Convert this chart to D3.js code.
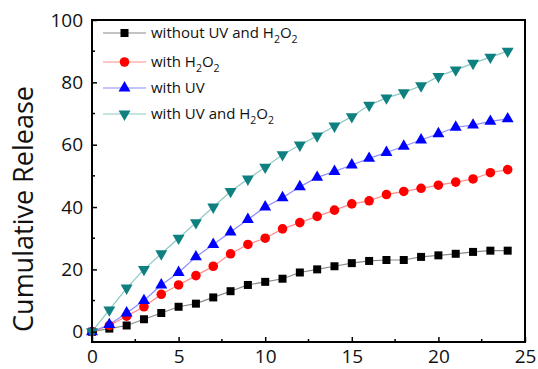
<!DOCTYPE html>
<html><head><meta charset="utf-8">
<script src="https://cdn.jsdelivr.net/npm/d3@7"></script>
<style>body{margin:0;background:#fff}svg{display:block}text{font-family:"Open Sans",sans-serif}</style>
</head><body><svg id="c" width="538" height="369"></svg>
<script>
const time = d3.range(0, 25);
const seriesNames = ["without UV and H2O2", "with H2O2", "with UV", "with UV and H2O2"];
const noUV = [0,1,2,4,6,8,9,11,13,15,16,17,19,20,21,22,22.7,23,23,24,24.5,25,25.6,26,26];
const withH2O2 = [0,2,5,8,12,15,18,21,25,28,30,33,35,37,39,41,42,44,45,46,47,48,49,51,52];
const withUV = [0,2.3,6,10,15,19,24,28,32,36,40,43,46.5,49.5,51.4,53.5,55.6,57.5,59.5,61.5,63.5,65.6,66.3,67.5,68.3];
const withBoth = [0,7,14,20,25,30,35,40,45,49,52.8,56.8,59.9,62.8,66,69,72.7,75,76.7,78.9,81.9,84,86.1,88.1,90];
const xTicks = [0,5,10,15,20,25];
const yTicks = [0,20,40,60,80,100];

const markerColors = ["#000000","#ff0000","#0000ff","#0f8080"];
const lineColors = ["#8a8a8a","#ff8a8a","#8a8aff","#8cc8c4"];
const shapes = ["square","circle","up","down"];
const values = [noUV, withH2O2, withUV, withBoth];

const svg = d3.select("#c");
const L = 92, R = 525, T = 20, B = 342;
const x = d3.scaleLinear().domain([0,25]).range([L,R]);
const y = d3.scaleLinear().domain([-3.3,100]).range([B,T]);

function sym(s){
  if(s==="square") return d3.symbol(d3.symbolSquare, 64)();
  if(s==="circle") return d3.symbol(d3.symbolCircle, 72)();
  return d3.symbol(d3.symbolTriangle, 62)();
}
function markerTransform(s, px, py){
  return "translate("+px+","+py+")" + (s==="down" ? " rotate(180)" : "");
}

values.forEach((vals,i)=>{
  const pts = time.map((t,j)=>[t, vals[j]]);
  svg.append("path").datum(pts)
    .attr("fill","none").attr("stroke",lineColors[i]).attr("stroke-width",1.2)
    .attr("d", d3.line().x(d=>x(d[0])).y(d=>y(d[1])));
});
values.forEach((vals,i)=>{
  svg.append("g").selectAll("path").data(time.map((t,j)=>[t, vals[j]])).join("path")
    .attr("d", sym(shapes[i]))
    .attr("transform", d=>markerTransform(shapes[i], x(d[0]), y(d[1])))
    .attr("fill", markerColors[i]);
});

const xAxis = d3.axisBottom(x).tickValues(xTicks).tickSize(-5).tickPadding(8).tickFormat(d3.format("d"));
const gx = svg.append("g").attr("transform","translate(0,"+B+")").call(xAxis);
const yAxis = d3.axisLeft(y).tickValues(yTicks).tickSize(-5).tickPadding(9).tickFormat(d3.format("d"));
const gy = svg.append("g").attr("transform","translate("+L+",0)").call(yAxis);
[gx,gy].forEach(g=>{
  g.select(".domain").remove();
  g.selectAll(".tick line").attr("stroke","#000").attr("stroke-width",1.5);
  g.selectAll(".tick text").attr("font-size",19).attr("fill","#111").style("font-family","'Open Sans',sans-serif");
});
gx.selectAll(".tick text").attr("dy","0.71em");
const xMinor = [2.5,7.5,12.5,17.5,22.5];
const yMinor = [10,30,50,70,90];
svg.append("g").selectAll("line").data(xMinor).join("line")
  .attr("x1",d=>x(d)).attr("x2",d=>x(d)).attr("y1",B).attr("y2",B-3)
  .attr("stroke","#000").attr("stroke-width",1.5);
svg.append("g").selectAll("line").data(yMinor).join("line")
  .attr("x1",L).attr("x2",L+3).attr("y1",d=>y(d)).attr("y2",d=>y(d))
  .attr("stroke","#000").attr("stroke-width",1.5);

svg.append("rect").attr("x",L).attr("y",T).attr("width",R-L).attr("height",B-T)
  .attr("fill","none").attr("stroke","#000").attr("stroke-width",2);

svg.append("text").attr("transform","translate(33,209) rotate(-90)")
  .attr("text-anchor","middle").attr("font-size",27).attr("fill","#111")
  .text("Cumulative Release");

const legY = [33,62,88,114];
const leg = svg.append("g");
seriesNames.forEach((name,i)=>{
  const g = leg.append("g").attr("transform","translate(0,"+legY[i]+")");
  g.append("line").attr("x1",103).attr("x2",146).attr("y1",0).attr("y2",0)
    .attr("stroke",lineColors[i]).attr("stroke-width",1.2);
  g.append("path").attr("d",sym(shapes[i])).attr("fill",markerColors[i])
    .attr("transform",markerTransform(shapes[i],124.5,0));
  const t = g.append("text").attr("x",151).attr("y",5).attr("font-size",15).attr("fill","#111");
  const m = name.match(/^(.*?)(H2O2)?$/);
  t.append("tspan").text(m[1]);
  if(m[2]){
    t.append("tspan").text("H");
    t.append("tspan").attr("font-size",10.5).attr("dy",5).text("2");
    t.append("tspan").attr("dy",-5).text("O");
    t.append("tspan").attr("font-size",10.5).attr("dy",5).text("2");
  }
});
</script></body></html>
